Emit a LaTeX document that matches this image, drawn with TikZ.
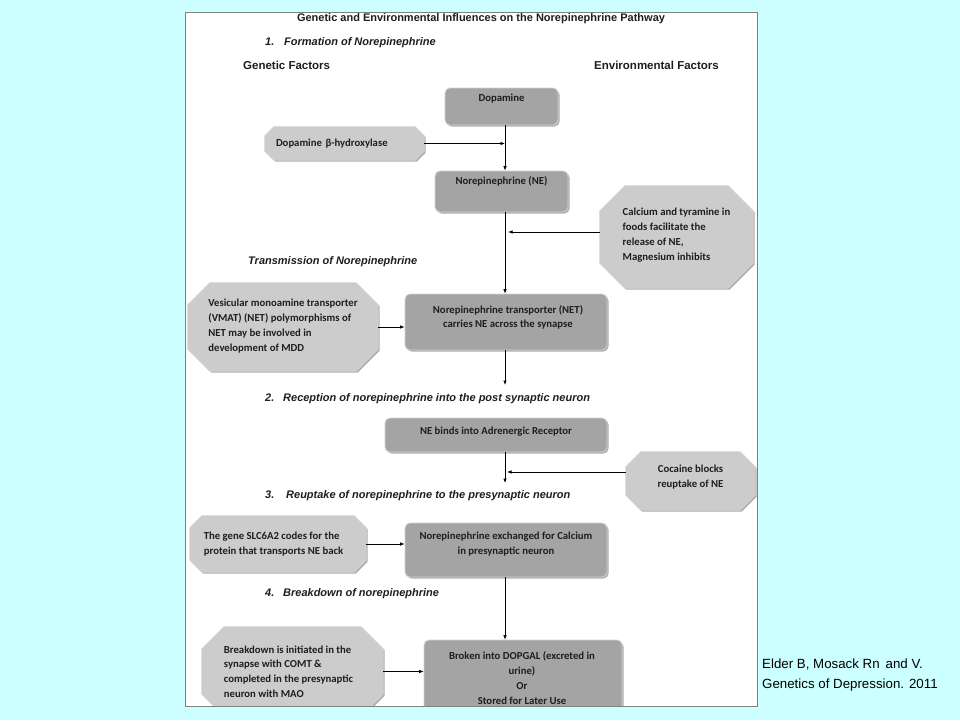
\documentclass[tikz,border=0pt]{standalone}
\usepackage{fontspec}
\setmainfont{Carlito}
\newfontfamily\arialf{Liberation Sans}
\usetikzlibrary{arrows.meta,shadows}
\definecolor{bgc}{HTML}{CCFFFF}
\definecolor{darkbox}{HTML}{A4A4A4}
\definecolor{lightbox}{HTML}{CCCCCC}
\definecolor{txt}{HTML}{1E1E1E}
% name, center, width, height, cut, text options, text
\newcommand\octbox[7]{%
  \node[minimum width=#3, minimum height=#4, inner sep=0pt] (#1) at #2 {};
  \path[octfill] ([xshift=#5]#1.north west) -- ([xshift=-#5]#1.north east) --
    ([yshift=-#5]#1.north east) -- ([yshift=#5]#1.south east) --
    ([xshift=-#5]#1.south east) -- ([xshift=#5]#1.south west) --
    ([yshift=#5]#1.south west) -- ([yshift=-#5]#1.north west) -- cycle;
  \node[boxtext, #6] (#1tx) at (#1.center) {#7};
}
\begin{document}
\begin{tikzpicture}[x=1pt,y=-1pt,
  boxtext/.style={font=\bfseries\fontsize{10.7}{14.8}\selectfont, text=txt, inner sep=0pt, align=left},
  shad/.style={drop shadow={shadow xshift=1.5pt, shadow yshift=-1.5pt, opacity=0.45, fill=black!70}},
  dbox/.style={rounded corners=5pt, fill=darkbox, draw=gray!35, line width=0.8pt, shad, inner sep=0pt},
  btext/.style={boxtext, align=center, anchor=north},
  octfill/.style={fill=lightbox, draw=gray!35, line width=0.8pt, shad},
  head/.style={font=\arialf\bfseries\itshape\fontsize{11}{13}\selectfont, text=txt, anchor=base west, inner sep=0pt},
  headup/.style={font=\arialf\bfseries\fontsize{11.5}{13}\selectfont, text=txt, anchor=base west, inner sep=0pt},
  arr/.style={-{Latex[length=4.5pt,width=3.5pt]}, line width=0.7pt, black}
]
\fill[bgc] (0,0) rectangle (960,720);
\useasboundingbox (0,0) rectangle (960,720);
\fill[white] (185,12) rectangle (757,706);
\coordinate (spine) at (505,0);
\begin{scope}
\clip (185,12) rectangle (757,706);
% headings
\node[headup, anchor=base, font=\arialf\bfseries\fontsize{11}{13}\selectfont] (title) at (481,21.5) {Genetic and Environmental Influences on the Norepinephrine Pathway};
\node[head] (h1n) at (265,45) {1.};
\node[head] (h1) at (284,45) {Formation of Norepinephrine};
\node[headup] (gf) at (243,69) {Genetic Factors};
\node[headup] (ef) at (594,69) {Environmental Factors};
\node[head] (ht) at (248,264) {Transmission of Norepinephrine};
\node[head] (h2n) at (265,401) {2.};
\node[head] (h2) at (283,401) {Reception of norepinephrine into the post synaptic neuron};
\node[head] (h3n) at (265,498) {3.};
\node[head] (h3) at (286,498) {Reuptake of norepinephrine to the presynaptic neuron};
\node[head] (h4n) at (265,596) {4.};
\node[head] (h4) at (283,596) {Breakdown of norepinephrine};

% dark boxes
\node[dbox, minimum width=113pt, minimum height=37pt] (dop) at (501.5,106.5) {};
\node[btext] (doptx) at (501.5,93.5) {Dopamine};
\node[dbox, minimum width=133pt, minimum height=41pt] (ne) at (501.5,191.5) {};
\node[btext] (netx) at (501.5,176.5) {Norepinephrine (NE)};
\node[dbox, minimum width=202pt, minimum height=56pt] (net) at (506,322) {};
\node[btext] (nettx) at (508,305) {Norepinephrine transporter (NET)\\carries NE across the synapse};
\node[dbox, minimum width=222pt, minimum height=34pt] (bind) at (496,435) {};
\node[btext] (bindtx) at (496,426.5) {NE binds into Adrenergic Receptor};
\node[dbox, minimum width=202pt, minimum height=54pt] (exch) at (506,550) {};
\node[btext] (exchtx) at (506,531.5) {Norepinephrine exchanged for Calcium\\in presynaptic neuron};
\node[dbox, minimum width=198pt, minimum height=76pt] (brok) at (523,678) {};
\node[btext] (broktx) at (522,651.5) {Broken into DOPGAL (excreted in\\urine)\\Or\\Stored for Later Use};

% octagons
\octbox{dbh}{(344.5,143.5)}{159pt}{33pt}{9pt}{text width=137pt}{Dopamine β-hydroxylase}
\octbox{calc}{(676.5,237)}{153pt}{102pt}{25pt}{yshift=2pt}{Calcium and tyramine in\\foods facilitate the\\release of NE,\\Magnesium inhibits}
\octbox{vmat}{(283,327)}{190pt}{88pt}{22pt}{yshift=1pt}{Vesicular monoamine transporter\\(VMAT) (NET) polymorphisms of\\NET may be involved in\\development of MDD}
\octbox{coc}{(690.5,481)}{129pt}{58pt}{15pt}{align=center, yshift=4pt}{Cocaine blocks\\reuptake of NE}
\octbox{slc}{(278,544)}{176pt}{56pt}{12pt}{xshift=-4.5pt}{The gene SLC6A2 codes for the\\protein that transports NE back}
\octbox{brk}{(292.5,671.5)}{181pt}{89pt}{22pt}{xshift=-4pt}{Breakdown is initiated in the\\synapse with COMT \&\\completed in the presynaptic\\neuron with MAO}

% free ends
\coordinate (e2) at (505,385);
\coordinate (e3) at (505,483);

% connectors
\draw[line width=0.7pt] (dop.south -| spine) -- (dbh.east -| spine);
\draw[arr] (dbh.east -| spine) -- (ne.north -| spine);
\draw[arr] (dbh.east) -- (dbh.east -| spine);
\draw[arr] (ne.south -| spine) -- (net.north -| spine);
\draw[arr] ([yshift=5pt]calc.west) -- ([xshift=3pt,yshift=5pt]calc.west -| spine);
\draw[arr] (vmat.east) -- (vmat.east -| net.west);
\draw[arr] (net.south -| spine) -- (e2);
\draw[arr] (bind.south -| spine) -- (e3);
\draw[arr] ([yshift=9pt]coc.west) -- ([xshift=2pt,yshift=9pt]coc.west -| spine);
\draw[arr] (slc.east) -- (slc.east -| exch.west);
\draw[arr] (exch.south -| spine) -- (brok.north -| spine);
\draw[arr] (brk.east) -- (brk.east -| brok.west);
\end{scope}
\draw[gray, line width=0.8pt] (185,12) rectangle (757,706);
\node[anchor=west, align=left, font=\arialf\fontsize{13.3}{19.5}\selectfont, inner sep=0pt] (cite) at (762,675) {Elder B, Mosack Rn\, and V.\\Genetics of Depression. 2011};
\end{tikzpicture}
\end{document}
